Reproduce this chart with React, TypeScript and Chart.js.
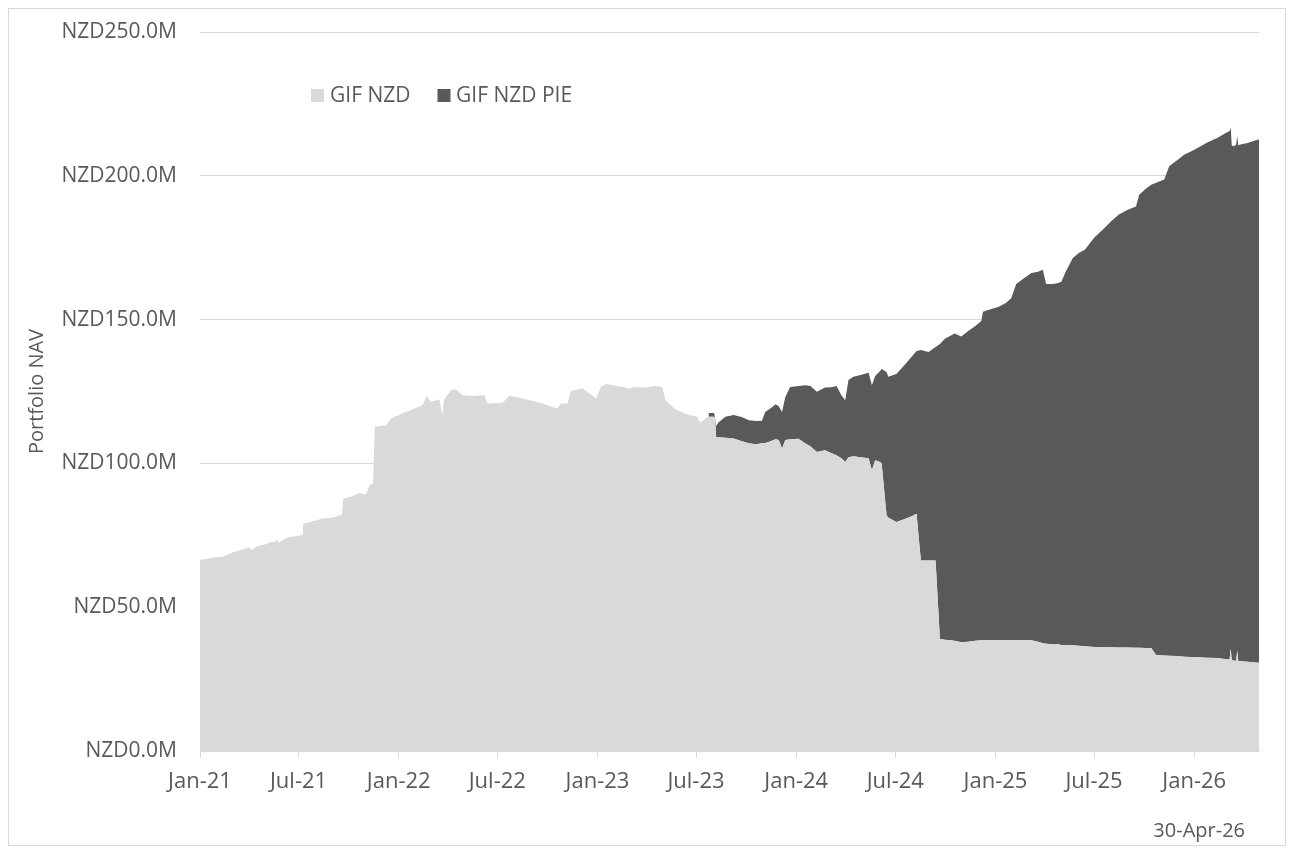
import { useEffect, useRef } from "react";
import { Chart, registerables } from "chart.js";

Chart.register(...registerables);

// Valuation dates (daily NAV sampled at turning points)
const navDates = [
  "2021-01-01", "2021-01-08", "2021-01-28", "2021-02-13", "2021-02-25", "2021-03-03", "2021-03-28", "2021-03-30",
  "2021-04-06", "2021-04-15", "2021-04-24", "2021-05-03", "2021-05-09", "2021-05-20", "2021-05-23", "2021-05-25",
  "2021-06-09", "2021-06-15", "2021-07-03", "2021-07-08", "2021-07-09", "2021-07-25", "2021-08-15", "2021-09-02",
  "2021-09-14", "2021-09-19", "2021-09-21", "2021-10-06", "2021-10-21", "2021-11-02", "2021-11-08", "2021-11-15",
  "2021-11-18", "2021-12-09", "2021-12-18", "2022-01-08", "2022-01-27", "2022-02-14", "2022-02-21", "2022-03-01",
  "2022-03-17", "2022-03-22", "2022-03-25", "2022-04-07", "2022-04-16", "2022-04-28", "2022-05-17", "2022-06-07",
  "2022-06-13", "2022-07-11", "2022-07-23", "2022-08-10", "2022-08-29", "2022-09-22", "2022-10-19", "2022-10-26",
  "2022-11-07", "2022-11-13", "2022-12-04", "2022-12-30", "2023-01-07", "2023-01-16", "2023-02-06", "2023-02-28",
  "2023-03-12", "2023-03-29", "2023-04-18", "2023-04-30", "2023-05-06", "2023-05-24", "2023-06-18", "2023-07-03",
  "2023-07-09", "2023-07-18",
  "2023-07-24", "2023-08-03", "2023-08-05", "2023-08-07", "2023-08-12", "2023-08-24", "2023-09-08", "2023-09-23",
  "2023-10-06", "2023-10-19", "2023-10-30", "2023-11-05", "2023-11-15", "2023-11-24", "2023-11-30", "2023-12-06",
  "2023-12-12", "2023-12-21", "2024-01-05", "2024-01-18", "2024-01-27", "2024-02-08", "2024-02-23", "2024-03-06",
  "2024-03-15", "2024-03-24", "2024-03-31", "2024-04-06", "2024-04-15", "2024-04-28", "2024-05-13", "2024-05-19",
  "2024-05-25", "2024-06-03", "2024-06-06", "2024-06-15", "2024-06-18", "2024-07-03", "2024-07-16", "2024-07-31",
  "2024-08-09", "2024-08-17", "2024-08-31", "2024-09-13", "2024-09-21", "2024-09-30", "2024-10-18", "2024-10-30",
  "2024-11-12", "2024-11-25", "2024-12-06", "2024-12-09", "2024-12-24", "2025-01-06", "2025-01-20", "2025-01-30",
  "2025-02-08", "2025-02-21", "2025-03-08", "2025-03-20", "2025-03-29", "2025-04-04", "2025-04-17", "2025-04-26",
  "2025-05-02", "2025-05-10", "2025-05-23", "2025-06-03", "2025-06-14", "2025-07-02", "2025-07-17", "2025-08-01",
  "2025-08-15", "2025-09-01", "2025-09-16", "2025-09-22", "2025-10-04", "2025-10-14", "2025-10-23", "2025-11-07",
  "2025-11-16", "2025-11-30", "2025-12-14", "2025-12-25", "2026-01-07", "2026-01-25", "2026-02-13", "2026-02-28",
  "2026-03-07", "2026-03-09", "2026-03-11", "2026-03-15", "2026-03-19", "2026-03-21", "2026-03-23", "2026-03-27",
  "2026-04-09", "2026-04-24", "2026-04-30",
];

// GIF NZD net asset value, NZD millions
const gifNzd = [
  66.5, 66.6, 67.4, 67.6, 68.7, 69.1, 70.5, 70.9,
  70.0, 71.1, 71.5, 72.0, 72.6, 72.8, 73.5, 72.3,
  74.1, 74.3, 74.9, 75.3, 79.0, 79.8, 80.8, 81.2,
  81.9, 82.3, 87.7, 88.5, 89.7, 89.2, 92.4, 93.0,
  112.7, 113.3, 115.6, 117.4, 118.8, 120.3, 123.4, 121.4,
  122.2, 116.2, 122.0, 125.5, 125.7, 123.7, 123.4, 123.7,
  120.8, 121.1, 123.4, 122.9, 122.0, 120.8, 119.1, 120.8,
  120.8, 125.2, 126.1, 122.6, 126.6, 127.6, 126.9, 126.1,
  126.6, 126.4, 126.9, 126.6, 122.0, 118.8, 116.8, 116.2,
  114.1, 115.6,
  116.2, 116.2, 115.8, 109.1, 109.1, 108.9, 108.7, 107.7,
  107.0, 106.7, 107.0, 107.1, 107.7, 108.4, 108.1, 105.2,
  108.1, 108.4, 108.6, 106.9, 106.0, 104.0, 104.6, 103.5,
  102.8, 101.8, 100.5, 102.1, 102.5, 102.1, 101.8, 97.6,
  101.1, 100.5, 100.0, 81.9, 81.2, 79.6, 80.5, 81.6,
  82.5, 66.2, 66.2, 66.2, 38.9, 38.7, 38.3, 37.8,
  38.0, 38.3, 38.5, 38.5, 38.6, 38.6, 38.6, 38.6,
  38.6, 38.6, 38.5, 38.0, 37.5, 37.3, 37.1, 37.1,
  36.9, 36.8, 36.8, 36.6, 36.4, 36.2, 36.1, 36.1,
  36.0, 36.0, 35.9, 35.9, 35.8, 35.8, 33.4, 33.2,
  33.1, 33.0, 32.8, 32.7, 32.6, 32.4, 32.3, 31.9,
  31.8, 35.6, 31.6, 31.4, 31.4, 34.9, 31.3, 31.2,
  31.0, 30.8, 30.7,
];

// GIF NZD PIE net asset value, NZD millions (fund opened mid-2023)
const gifNzdPie = [
  null, null, null, null, null, null, null, null,
  null, null, null, null, null, null, null, null,
  null, null, null, null, null, null, null, null,
  null, null, null, null, null, null, null, null,
  null, null, null, null, null, null, null, null,
  null, null, null, null, null, null, null, null,
  null, null, null, null, null, null, null, null,
  null, null, null, null, null, null, null, null,
  null, null, null, null, null, null, null, null,
  null, null,
  1.3, 1.3, 0.2, 4.0, 5.3, 7.3, 8.1, 8.4,
  8.0, 8.0, 7.8, 10.8, 11.5, 12.2, 11.8, 12.7,
  15.0, 18.2, 18.3, 20.3, 20.9, 20.9, 21.8, 23.0,
  24.1, 21.9, 21.5, 26.9, 27.6, 28.6, 29.7, 29.6,
  29.3, 31.6, 32.8, 49.9, 48.9, 51.5, 53.3, 55.5,
  56.6, 73.2, 72.5, 74.3, 102.6, 104.6, 106.9, 106.3,
  108.0, 109.5, 111.0, 114.2, 115.1, 115.8, 117.2, 118.8,
  123.8, 125.6, 127.7, 128.6, 129.8, 125.1, 125.3, 125.6,
  126.3, 129.8, 134.6, 136.6, 137.9, 142.4, 145.1, 148.0,
  150.5, 152.2, 153.4, 157.5, 159.7, 161.1, 164.2, 165.5,
  170.2, 172.3, 174.6, 175.7, 177.1, 179.2, 180.9, 183.0,
  183.8, 181.2, 178.9, 178.9, 179.4, 178.9, 179.3, 179.7,
  180.4, 181.6, 181.9,
];

const seriesNames = ["GIF NZD", "GIF NZD PIE"];
const seriesColors = ["#d9d9d9", "#595959"];

const tickDates = [
  "2021-01-01", "2021-07-01", "2022-01-01", "2022-07-01", "2023-01-01", "2023-07-01",
  "2024-01-01", "2024-07-01", "2025-01-01", "2025-07-01", "2026-01-01",
];
const tickLabels = [
  "Jan-21", "Jul-21", "Jan-22", "Jul-22", "Jan-23", "Jul-23",
  "Jan-24", "Jul-24", "Jan-25", "Jul-25", "Jan-26",
];

const yTickValues = [0, 50, 100, 150, 200, 250];
const axisTitle = "Portfolio NAV";
const asOfLabel = "30-Apr-26";

const FONT = "'Open Sans', 'Segoe UI', sans-serif";
const TEXT = "#595959";
const GRID = "#d9d9d9";

const startMs = Date.parse("2021-01-01");
const dayOf = (d: string) => (Date.parse(d) - startMs) / 86400000;

// Legend and "as of" stamp drawn over the chart canvas
const overlayPlugin = {
  id: "overlay",
  afterDraw(chart: any) {
    const ctx = chart.ctx;
    ctx.save();
    ctx.font = `21px ${FONT}`;
    ctx.textBaseline = "middle";
    ctx.textAlign = "left";
    const items = [
      { box: 302, text: 321 },
      { box: 428.5, text: 447 },
    ];
    items.forEach((it, i) => {
      ctx.fillStyle = seriesColors[i];
      ctx.fillRect(it.box, 80, 13, 13);
      ctx.fillStyle = TEXT;
      ctx.fillText(seriesNames[i], it.text, 87);
    });
    ctx.font = `20px ${FONT}`;
    ctx.textAlign = "right";
    ctx.fillText(asOfLabel, 1236, 822);
    ctx.restore();
  },
};

export default function App() {
  const canvasRef = useRef<HTMLCanvasElement | null>(null);

  useEffect(() => {
    const canvas = canvasRef.current;
    if (!canvas) return;

    const toPoints = (vals: (number | null)[]) =>
      navDates.map((d, i) => ({ x: dayOf(d), y: vals[i] }));

    const chart = new Chart(canvas, {
      type: "line",
      data: {
        datasets: [
          {
            label: seriesNames[0],
            data: toPoints(gifNzd),
            backgroundColor: seriesColors[0],
            borderColor: "rgba(0,0,0,0)",
            borderWidth: 0,
            pointRadius: 0,
            fill: "origin",
            tension: 0,
          },
          {
            label: seriesNames[1],
            data: toPoints(gifNzdPie),
            backgroundColor: seriesColors[1],
            borderColor: "rgba(0,0,0,0)",
            borderWidth: 0,
            pointRadius: 0,
            fill: "-1",
            tension: 0,
          },
        ],
      },
      options: {
        responsive: false,
        animation: false,
        events: [],
        layout: { padding: { top: 23, right: 26, left: 0, bottom: 0 } },
        plugins: {
          legend: { display: false },
          tooltip: { enabled: false },
        },
        scales: {
          x: {
            type: "linear",
            min: 0,
            max: dayOf(navDates[navDates.length - 1]),
            afterBuildTicks: (scale: any) => {
              scale.ticks = tickDates.map((d) => ({ value: dayOf(d) }));
            },
            afterFit: (scale: any) => {
              scale.height = 94;
              scale.paddingLeft = 0;
              scale.paddingRight = 0;
            },
            ticks: {
              autoSkip: false,
              maxRotation: 0,
              padding: 11,
              color: TEXT,
              font: { family: FONT, size: 22 },
              callback: (_v: any, i: number) => tickLabels[i],
            },
            grid: {
              drawOnChartArea: false,
              drawTicks: true,
              tickLength: 7,
              color: GRID,
            },
            border: { display: true, color: GRID, width: 1 },
          },
          y: {
            stacked: true,
            min: 0,
            max: 250,
            afterBuildTicks: (scale: any) => {
              scale.ticks = yTickValues.map((v) => ({ value: v }));
            },
            afterFit: (scale: any) => {
              scale.width = 191;
              scale.paddingTop = 0;
              scale.paddingBottom = 0;
            },
            ticks: {
              padding: 23,
              color: TEXT,
              font: { family: FONT, size: 21 },
              callback: (v: any) => `NZD${Number(v).toFixed(1)}M`,
            },
            grid: { color: GRID, drawTicks: false, lineWidth: 1 },
            border: { display: false },
            title: {
              display: true,
              text: axisTitle,
              color: TEXT,
              font: { family: FONT, size: 20 },
              padding: { top: 16, bottom: 0 },
            },
          },
        },
      },
      plugins: [overlayPlugin],
    });

    return () => chart.destroy();
  }, []);

  return (
    <div
      style={{
        position: "relative",
        width: 1278,
        height: 838,
        border: `1px solid ${GRID}`,
        boxSizing: "border-box",
        background: "#ffffff",
      }}
    >
      <canvas
        ref={canvasRef}
        width={1276}
        height={836}
        style={{ display: "block", width: 1276, height: 836 }}
      />
    </div>
  );
}
